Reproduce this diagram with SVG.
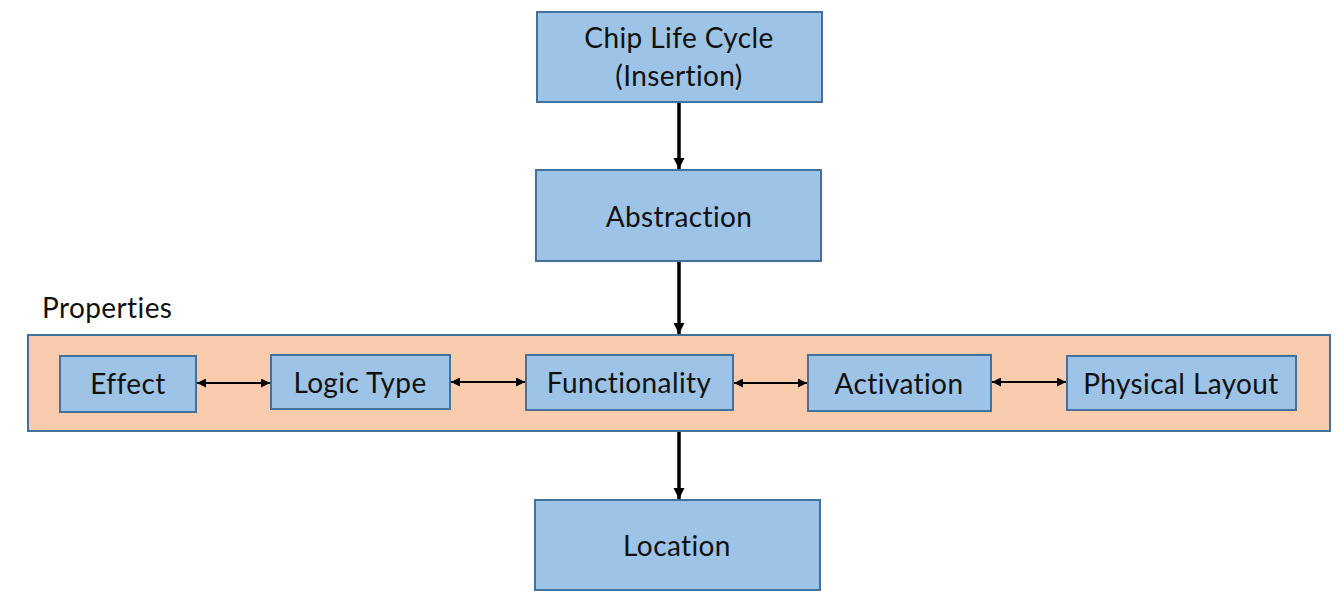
<svg xmlns="http://www.w3.org/2000/svg" width="1344" height="598" viewBox="0 0 1344 598">
<style>
.n{fill:#9DC3E6;stroke:#41719C;stroke-width:2}
.p{fill:#F8CBAD;stroke:#41719C;stroke-width:2}
text{font-family:"Lato","Open Sans",sans-serif;font-size:28px;letter-spacing:0.4px;font-variant-ligatures:none;fill:#111;text-anchor:middle}
.thick{stroke:#000;stroke-width:3.5;fill:none}
.thin{stroke:#000;stroke-width:1.8;fill:none}
</style>
<defs>
<marker id="ah" viewBox="0 0 10 10" refX="10" refY="5" markerWidth="3.2" markerHeight="3.2" orient="auto"><path d="M0,0L10,5L0,10z" fill="#000"/></marker>
<marker id="as" viewBox="0 0 10 10" refX="10" refY="5" markerWidth="6" markerHeight="5" orient="auto-start-reverse"><path d="M0,0L10,5L0,10z" fill="#000"/></marker>
</defs>
<rect width="1344" height="598" fill="#fff"/>
<g id="properties">
<rect class="p" x="28" y="335" width="1302" height="96"/>
<text x="42" y="318" style="text-anchor:start">Properties</text>
</g>
<g id="chip"><rect class="n" x="537" y="12" width="285" height="90"/><text x="679" y="48">Chip Life Cycle</text><text x="679" y="86">(Insertion)</text></g>
<g id="abstraction"><rect class="n" x="536" y="170" width="285" height="91"/><text x="679" y="227">Abstraction</text></g>
<g id="effect"><rect class="n" x="60" y="356" width="136" height="56"/><text x="128" y="394">Effect</text></g>
<g id="logic"><rect class="n" x="271" y="355" width="179" height="54"/><text x="360" y="393">Logic Type</text></g>
<g id="func"><rect class="n" x="526" y="355" width="207" height="55"/><text x="629" y="393">Functionality</text></g>
<g id="activation"><rect class="n" x="808" y="355" width="183" height="56"/><text x="899" y="394">Activation</text></g>
<g id="layout"><rect class="n" x="1067" y="356" width="229" height="54"/><text x="1181" y="394">Physical Layout</text></g>
<g id="location"><rect class="n" x="535" y="500" width="285" height="90"/><text x="677" y="556">Location</text></g>
<g id="connectors">
<line class="thick" x1="679" y1="103" x2="679" y2="169" marker-end="url(#ah)"/>
<line class="thick" x1="679" y1="262" x2="679" y2="334" marker-end="url(#ah)"/>
<line class="thick" x1="679" y1="432" x2="679" y2="499" marker-end="url(#ah)"/>
<line class="thin" x1="197" y1="383" x2="270" y2="383" marker-start="url(#as)" marker-end="url(#as)"/>
<line class="thin" x1="451" y1="382" x2="525" y2="382" marker-start="url(#as)" marker-end="url(#as)"/>
<line class="thin" x1="734" y1="383" x2="807" y2="383" marker-start="url(#as)" marker-end="url(#as)"/>
<line class="thin" x1="992" y1="382" x2="1066" y2="382" marker-start="url(#as)" marker-end="url(#as)"/>
</g>
</svg>
